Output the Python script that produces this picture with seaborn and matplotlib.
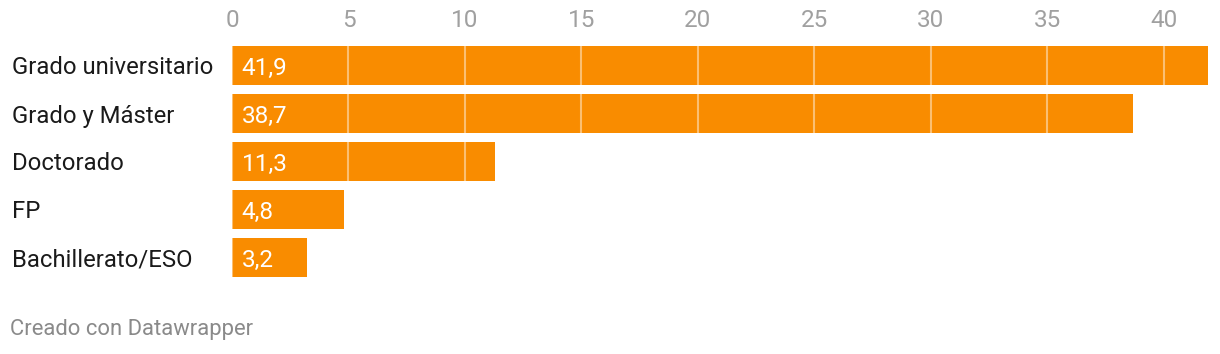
import matplotlib
matplotlib.use("Agg")
import matplotlib.pyplot as plt
import seaborn as sns
import pandas as pd

categories = ["Grado universitario", "Grado y Máster", "Doctorado", "FP", "Bachillerato/ESO"]
values = [41.9, 38.7, 11.3, 4.8, 3.2]
xticks = [0, 5, 10, 15, 20, 25, 30, 35, 40]

sns.set_theme(style="white")
plt.rcParams['font.family'] = ['Roboto', 'DejaVu Sans']

df = pd.DataFrame({"cat": categories, "val": values})

fig = plt.figure(figsize=(12.2, 3.54), dpi=100)
ax = fig.add_axes([232/1220, 1-281.5/354, (1208-232)/1220, 240/354])

sns.barplot(data=df, y="cat", x="val", color="#f98c00", saturation=1, width=0.81,
            orient="h", ax=ax, linewidth=0)

ax.set_xlim(0, 41.9)
ax.set_xticks(xticks)
ax.xaxis.tick_top()
ax.tick_params(axis="x", length=0, pad=7, labelsize=17.5, labelcolor="#a0a0a0")
ax.tick_params(axis="y", length=0, pad=0)
ax.set_xlabel("")
ax.set_ylabel("")
for s in ax.spines.values():
    s.set_visible(False)

ax.set_axisbelow(False)
ax.xaxis.grid(True, color="white", alpha=0.45, linewidth=1.5)
ax.yaxis.grid(False)

for i, v in enumerate(values):
    ax.annotate(f"{v:.1f}".replace(".", ","), xy=(0, i), xytext=(6.8, 0),
                textcoords="offset points", va="center_baseline", ha="left",
                color="white", fontsize=17.5)

ax.set_yticklabels([])
for i, c in enumerate(categories):
    ax.annotate(c, xy=(0, i), xycoords=("figure pixels", "data"),
                xytext=(12, 0), textcoords="offset pixels",
                va="center_baseline", ha="left", fontsize=17.2, color="#1a1a1a")

fig.text(10/1220, 1-330/354, "Creado con Datawrapper", fontsize=15.8,
         color="#8a8a8a", va="center", ha="left")

fig.savefig("out.png", dpi=100)
